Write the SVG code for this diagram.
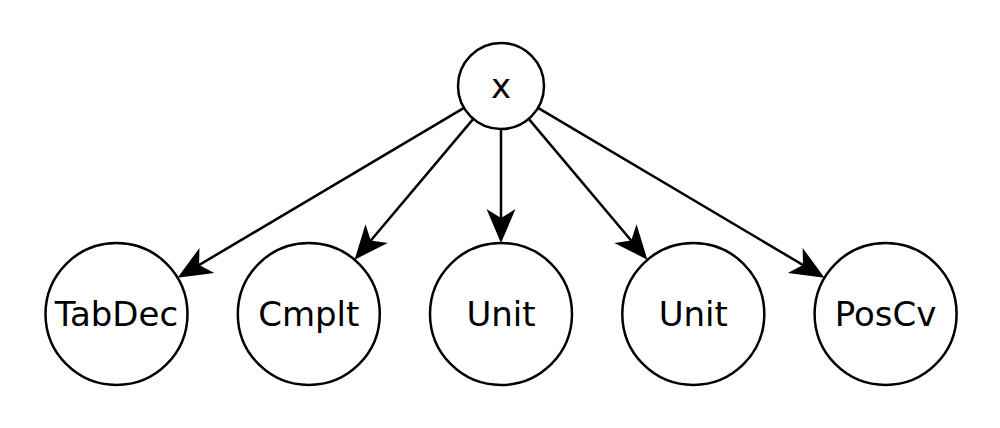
<svg xmlns="http://www.w3.org/2000/svg" width="1000" height="428" viewBox="0 0 1000 428">
<style>
.node circle{fill:#fff;stroke:#000;stroke-width:2.5}
.node text{font-family:"DejaVu Sans",sans-serif;font-size:34px;text-anchor:middle;fill:#000}
.edges line{stroke:#000;stroke-width:2.5}
</style>
<defs>
<marker id="ah" markerUnits="userSpaceOnUse" markerWidth="50" markerHeight="40" viewBox="-25 -20 45 40" refX="0" refY="0" orient="auto" overflow="visible">
<path d="M15,0 L-19,-14.5 L-10,0 L-19,14.5 Z" fill="#000"/>
</marker>
</defs>
<rect width="1000" height="428" fill="#fff"/>
<g class="edges">
<line x1="464" y1="107.9" x2="190.5" y2="270.1" marker-end="url(#ah)"/>
<line x1="473.3" y1="118.9" x2="364.3" y2="248.2" marker-end="url(#ah)"/>
<line x1="501" y1="129" x2="501" y2="228" marker-end="url(#ah)"/>
<line x1="528.7" y1="118.9" x2="637.7" y2="248.2" marker-end="url(#ah)"/>
<line x1="538" y1="107.9" x2="811.6" y2="270.1" marker-end="url(#ah)"/>
</g>
<g id="n_x" class="node"><circle cx="501" cy="86" r="43"/><text x="501" y="98">x</text></g>
<g id="n_tabdec" class="node"><circle cx="116.5" cy="314" r="71"/><text x="116.5" y="326">TabDec</text></g>
<g id="n_cmplt" class="node"><circle cx="308.8" cy="314" r="71"/><text x="308.8" y="326">Cmplt</text></g>
<g id="n_unit1" class="node"><circle cx="501" cy="314" r="71"/><text x="501" y="326">Unit</text></g>
<g id="n_unit2" class="node"><circle cx="693.3" cy="314" r="71"/><text x="693.3" y="326">Unit</text></g>
<g id="n_poscv" class="node"><circle cx="885.6" cy="314" r="71"/><text x="885.6" y="326">PosCv</text></g>
</svg>
